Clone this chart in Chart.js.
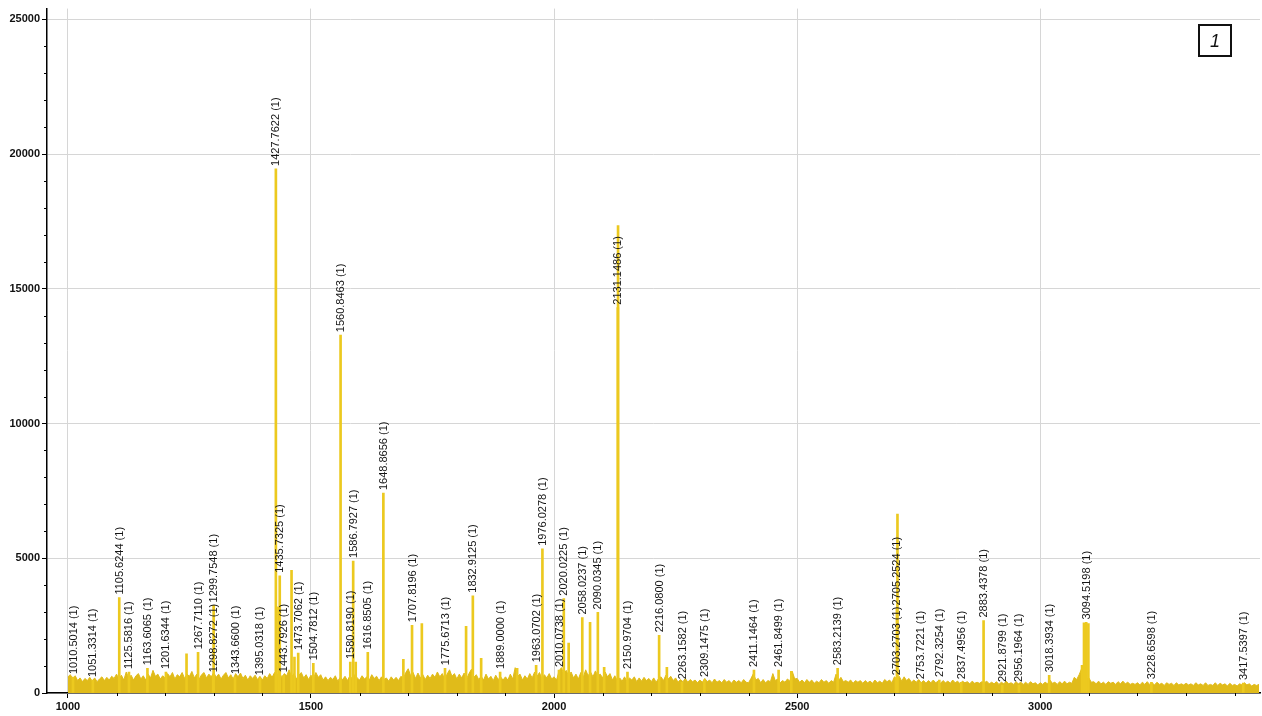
<!DOCTYPE html>
<html>
<head>
<meta charset="utf-8">
<script src="https://cdn.jsdelivr.net/npm/chart.js@4/dist/chart.umd.min.js"></script>
<style>
  html, body { margin: 0; padding: 0; background: #fff; }
  canvas { display: block; }
</style>
</head>
<body>
<canvas id="c" width="1262" height="716"></canvas>
<script>
// ---------- DATA ----------
// Labelled peaks: m/z and intensity
const peakMz = [1010.5014,1051.3314,1105.6244,1125.5816,1163.6065,1201.6344,1267.7110,1298.8272,1299.7548,1343.6600,
  1395.0318,1427.7622,1435.7325,1443.7926,1473.7062,1504.7812,1560.8463,1580.8190,1586.7927,1616.8505,
  1648.8656,1707.8196,1775.6713,1832.9125,1889.0000,1963.0702,1976.0278,2010.0738,2020.0225,2058.0237,
  2090.0345,2131.1486,2150.9704,2216.0800,2263.1582,2309.1475,2411.1464,2461.8499,2583.2139,2703.2703,
  2705.2524,2753.7221,2792.3254,2837.4956,2883.4378,2921.8799,2956.1964,3018.3934,3094.5198,3228.6598,
  3417.5397];
const peakIntensity = [590,480,3540,775,920,775,1510,660,3250,590,
  550,19450,4350,660,1480,1100,13280,1150,4900,1510,
  7420,2510,920,3610,775,1030,5350,850,3500,2800,
  2990,14300,775,2140,400,480,850,850,920,550,
  3140,400,480,400,2690,295,295,660,2620,400,
  370];
const peakCharge = "(1)";

// Unlabelled peaks
const extraMz = [1244,1433,1460,1466,1592,1690,1728,1819,1850,1924,2030,2074,2103,2131.6,2232,2488,2706.3,3086,3090,3099];
const extraIntensity = [1450,3200,4550,1330,1150,1250,2580,2470,1290,920,1850,2620,950,17350,950,800,6640,1030,2600,2580];

// Baseline noise, every 5 m/z from 1000 to 3450
const noiseStart = 1000, noiseStep = 5;
const noise = [
 600,680,520,640,460,560,420,540,460,580,440,560,420,520,600,460,580,480,620,540,
 700,520,660,480,780,560,660,480,640,720,520,640,480,700,560,840,620,700,520,640,
 560,720,600,760,520,680,600,760,540,700,620,800,560,700,520,680,760,560,700,600,
 760,580,700,520,660,760,560,680,520,720,600,740,540,660,480,640,540,660,500,620,
 480,640,540,720,580,760,640,800,560,720,640,860,600,720,520,660,760,560,680,500,
 660,540,760,580,680,480,600,460,580,500,640,440,580,500,620,460,640,520,680,560,
 480,640,520,600,480,680,540,620,460,600,500,560,440,600,480,580,460,620,540,760,
 900,640,760,540,740,560,680,500,660,540,700,580,780,600,720,520,700,860,620,720,
 520,700,560,740,520,720,880,580,680,500,620,480,700,520,620,460,660,500,600,480,
 600,480,700,520,940,620,700,480,640,520,720,560,780,620,760,520,680,560,720,520,
 600,480,800,940,700,840,620,780,560,700,520,760,580,860,640,780,600,820,640,700,
 560,780,600,720,480,640,460,560,440,600,420,560,480,600,420,560,440,580,460,540,
 420,560,400,540,600,460,660,520,620,460,560,400,500,420,540,400,500,420,480,380,
 480,400,540,420,480,380,520,400,460,380,500,400,460,360,480,400,460,380,500,400,
 380,540,720,480,540,380,500,380,460,420,720,460,520,380,460,400,520,440,800,520,
 540,400,480,380,500,400,480,360,440,380,500,400,460,360,460,400,700,460,580,420,
 460,400,480,360,460,400,460,360,460,380,440,360,480,380,440,360,500,420,480,380,
 600,520,620,440,600,460,540,400,480,400,500,380,460,360,460,380,480,380,440,360,
 460,380,440,360,480,380,440,340,440,380,420,340,440,360,400,360,420,380,440,340,
 400,340,420,320,400,340,440,340,380,320,420,340,400,320,400,320,420,340,380,300,
 380,320,400,340,480,360,400,320,420,340,440,340,400,360,580,500,680,900,560,520,
 560,400,420,340,440,340,400,320,420,360,400,320,420,340,440,340,400,320,360,320,
 380,300,400,320,420,320,380,300,400,320,360,280,380,320,360,280,380,300,340,300,
 360,300,340,280,380,300,340,280,380,280,320,280,380,280,360,300,340,260,360,280,
 320,260,340,300,380,300,340,260,320,280,320
];

// Axis ticks
const xMajorTicks = [1000,1500,2000,2500,3000];
const yMajorTicks = [0,5000,10000,15000,20000,25000];
const xMinorStep = 100, yMinorStep = 1000;
const panelLabel = "1";

// ---------- BUILD ----------
const noiseData = noise.map((v, i) => ({ x: noiseStart + i * noiseStep, y: v }));
const peakData = peakMz.map((m, i) => ({ x: m, y: peakIntensity[i] }))
  .concat(extraMz.map((m, i) => ({ x: m, y: extraIntensity[i] })));

const GOLD = '#E0BB1A';
const PEAK = '#ECC91F';
const FONT = '"Liberation Sans", Arial, sans-serif';

const minorTicksPlugin = {
  id: 'minorTicks',
  afterDraw(chart) {
    const { ctx, scales: { x, y }, chartArea } = chart;
    ctx.save();
    ctx.strokeStyle = '#000';
    ctx.lineWidth = 1;
    ctx.beginPath();
    for (let v = Math.ceil(x.min / xMinorStep) * xMinorStep; v <= x.max; v += xMinorStep) {
      if (xMajorTicks.includes(v)) continue;
      const px = Math.round(x.getPixelForValue(v)) + 0.5;
      ctx.moveTo(px, chartArea.bottom);
      ctx.lineTo(px, chartArea.bottom + 3);
    }
    for (let v = yMinorStep; v <= y.max; v += yMinorStep) {
      if (yMajorTicks.includes(v)) continue;
      const py = Math.round(y.getPixelForValue(v)) + 0.5;
      ctx.moveTo(chartArea.left - 3, py);
      ctx.lineTo(chartArea.left, py);
    }
    ctx.stroke();
    ctx.restore();
  }
};

const peakLabelPlugin = {
  id: 'peakLabels',
  afterDatasetsDraw(chart) {
    const { ctx, scales: { x, y } } = chart;
    ctx.save();
    ctx.fillStyle = '#151515';
    ctx.font = '11px ' + FONT;
    ctx.textAlign = 'left';
    ctx.textBaseline = 'middle';
    peakMz.forEach((m, i) => {
      const px = x.getPixelForValue(m);
      const py = y.getPixelForValue(peakIntensity[i]) - 3;
      ctx.save();
      ctx.translate(px + 0.5, py);
      ctx.rotate(-Math.PI / 2);
      ctx.fillText(m.toFixed(4) + ' ' + peakCharge, 0, 0);
      ctx.restore();
    });
    // panel label box
    const r = chart.chartArea.right;
    const bx = r - 61, by = 25, bw = 32, bh = 31;
    ctx.strokeStyle = '#111';
    ctx.lineWidth = 2;
    ctx.fillStyle = '#fff';
    ctx.fillRect(bx, by, bw, bh);
    ctx.strokeRect(bx, by, bw, bh);
    ctx.fillStyle = '#111';
    ctx.font = 'italic 18px ' + FONT;
    ctx.textAlign = 'center';
    ctx.textBaseline = 'middle';
    ctx.fillText(panelLabel, bx + bw / 2, by + bh / 2 + 1);
    ctx.restore();
  }
};

const whiteBg = {
  id: 'whiteBg',
  beforeDraw(chart) {
    const { ctx, width, height } = chart;
    ctx.save();
    ctx.fillStyle = '#fff';
    ctx.fillRect(0, 0, width, height);
    ctx.restore();
  }
};

new Chart(document.getElementById('c'), {
  type: 'line',
  data: {
    datasets: [
      {
        type: 'bar',
        data: peakData,
        backgroundColor: PEAK,
        borderWidth: 0,
        barThickness: 2,
        grouped: false,
        order: 1
      },
      {
        type: 'line',
        data: noiseData,
        borderColor: GOLD,
        backgroundColor: GOLD,
        borderWidth: 1,
        pointRadius: 0,
        tension: 0,
        fill: 'origin',
        order: 2
      }
    ]
  },
  options: {
    responsive: false,
    devicePixelRatio: 1,
    animation: false,
    layout: { padding: { left: 0, right: 2, top: 6, bottom: 0 } },
    plugins: { legend: { display: false }, tooltip: { enabled: false } },
    scales: {
      x: {
        type: 'linear',
        min: 957,
        max: 3452,
        offset: false,
        grid: { color: '#d6d6d6', lineWidth: 1, drawTicks: true, tickLength: 5, tickColor: '#000', offset: false },
        border: { display: true, color: '#000', width: 1.5 },
        ticks: {
          color: '#111',
          font: { family: FONT, size: 11, weight: 'bold' },
          padding: 2,
          maxRotation: 0,
          autoSkip: false,
          callback: (v) => String(v)
        },
        afterBuildTicks(scale) { scale.ticks = xMajorTicks.map(v => ({ value: v })); },
        afterFit(scale) { scale.height = 23; }
      },
      y: {
        type: 'linear',
        min: 0,
        max: 25400,
        grid: { color: '#d6d6d6', lineWidth: 1, drawTicks: true, tickLength: 5, tickColor: '#000' },
        border: { display: true, color: '#000', width: 1.5 },
        ticks: {
          color: '#111',
          font: { family: FONT, size: 11, weight: 'bold' },
          padding: 2,
          autoSkip: false,
          callback: (v) => String(v)
        },
        afterBuildTicks(scale) { scale.ticks = yMajorTicks.map(v => ({ value: v })); },
        afterFit(scale) { scale.width = 47; }
      }
    }
  },
  plugins: [whiteBg, minorTicksPlugin, peakLabelPlugin]
});
</script>
</body>
</html>
